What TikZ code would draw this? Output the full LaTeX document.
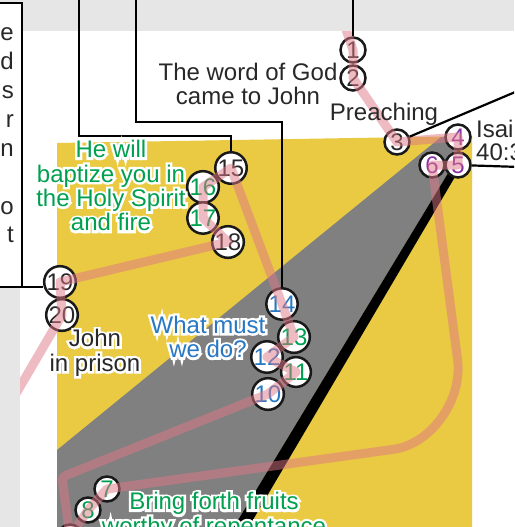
\documentclass[tikz,border=0pt]{standalone}
\usepackage{fontspec}
\setmainfont{Liberation Sans}
\newfontfamily\halofont[FakeBold=20]{Liberation Sans}
\usetikzlibrary{calc}
\definecolor{ybg}{RGB}{233,202,66}
\definecolor{gw}{RGB}{128,128,128}
\definecolor{bandc}{RGB}{230,230,230}
\definecolor{pathc}{RGB}{225,120,135}
\definecolor{tdark}{RGB}{40,40,40}
\definecolor{tgreen}{RGB}{0,160,80}
\definecolor{tblue}{RGB}{40,120,195}
\definecolor{tpurple}{RGB}{140,50,165}
\definecolor{circ}{RGB}{25,25,25}
\newcommand\halotxt[1]{\leavevmode\rlap{\halofont\color{white}#1}#1}
\tikzset{
  num/.style={circle, draw=circ, line width=2.5pt, fill=white, inner sep=0pt, minimum size=25pt, font=\fontsize{24}{24}\selectfont},
  conn/.style={draw=black, line width=2.2pt},
  lbl/.style={align=center, inner sep=0pt, font=\fontsize{24}{24.4}\selectfont},
  pathline/.style={draw=pathc, line width=9pt, opacity=0.5, line join=round},
  boxst/.style={draw=black, line width=2.5pt, fill=white},
}
\begin{document}
\begin{tikzpicture}[x=1pt,y=-1pt]
\useasboundingbox (0,0) rectangle (514,527);
\clip (0,0) rectangle (514,527);
\fill[white] (0,0) rectangle (514,527);
% backgrounds
\fill[ybg] (57,143) -- (472,136) -- (472,540) -- (57,540) -- cycle;
\fill[gw] (57,450) -- (441,137) -- (460,137) -- (453,165) -- (232,530) -- (57,530) -- cycle;
\fill[black] (453,165) -- (460,150) -- (462,165) -- (247,530) -- (232,530) -- cycle;
% circles
\node[num, text=tdark] (n1) at (353,50) {1};
\node[num, text=tdark] (n2) at (353,78) {2};
\node[num, text=tdark] (n3) at (397,142) {3};
\node[num, text=tpurple] (n4) at (458,137) {4};
\node[num, text=tpurple] (n5) at (458,165) {5};
\node[num, text=tpurple] (n6) at (432,165) {6};
\node[num, text=tgreen] (n7) at (107,489) {7};
\node[num, text=tgreen] (n8) at (88,510) {8};
\node[num, text=tgreen] (n9) at (70,537) {9};
\node[num, text=tblue] (n10) at (268,394) {10};
\node[num, text=tgreen] (n11) at (296,372) {11};
\node[num, text=tblue] (n12) at (267,357) {12};
\node[num, text=tgreen] (n13) at (294,337) {13};
\node[num, text=tblue] (n14) at (282,304) {14};
\node[num, text=tdark] (n15) at (231,168) {15};
\node[num, text=tgreen] (n16) at (203,187) {16};
\node[num, text=tgreen] (n17) at (203,218) {17};
\node[num, text=tdark] (n18) at (228,242) {18};
\node[num, text=tdark] (n19) at (60,282) {19};
\node[num, text=tdark] (n20) at (62,315) {20};
% translucent route
\coordinate (p0) at (336,0);
\coordinate (k1) at (468,439);
\coordinate (k2) at (62,477);
\coordinate (p21) at (0,421);
\draw[pathline] (p0) -- (n1.center) -- (n2.center) -- (n3.center) -- (n4.center) -- (n5.center) -- (n6.center)
  -- ($(k1)!80pt!(n6.center)$) .. controls ($(k1)!40pt!(n6.center)$) and ($(k1)!37pt!(n7.center)$) .. ($(k1)!75pt!(n7.center)$)
  -- (n7.center) -- (n8.center) -- (n9.center)
  -- ($(k2)!8pt!(n9.center)$) .. controls (k2) .. ($(k2)!8pt!(n10.center)$)
  -- (n10.center) -- (n11.center) -- (n12.center) -- (n13.center) -- (n14.center)
  -- (n15.center) -- (n16.center) -- (n17.center) -- (n18.center) -- (n19.center) -- (n20.center) -- (p21);
% bands
\fill[bandc] (0,0) rectangle (514,31);
\fill[bandc] (0,287) rectangle (20,527);
% left box
\coordinate (bxNW) at (-5,3);
\coordinate (bxSE) at (22,287);
\draw[boxst] (bxNW) rectangle (bxSE);
\node[anchor=north east, align=right, inner sep=0pt, font=\fontsize{24}{28.9}\selectfont, text=tdark] (boxtxt) at (14,27.5) {e\\d\\s\\r\\n\\\mbox{}\\o\\t};
% connectors
\coordinate (edgeTop) at (0,0);
\draw[conn] (n1.north) -- (n1.north |- edgeTop);
\coordinate (t14) at (136,0);
\coordinate (k14) at (282,122);
\draw[conn] (t14) |- (k14) -- (n14.north);
\coordinate (t15) at (79,0);
\coordinate (k15) at (231,136);
\draw[conn] (t15) |- (k15) -- (n15.north);
\coordinate (isaA) at (520,90);
\draw[conn] (n3) -- (isaA);
\coordinate (isaB) at (520,167);
\draw[conn] (n5) -- (isaB);
\draw[conn] (bxSE) -- (bxSE -| n19.west);
% labels
\node[lbl, text=tdark] (lWord) at (248,83.8) {The word of God\\came to John};
\node[lbl, text=tdark] (lPreach) at (384,113.8) {Preaching};
\node[lbl, text=tdark, anchor=north west, align=left, font=\fontsize{24}{23}\selectfont] (lIsa) at (476,119.8) {Isai\\40:3};
\node[lbl, text=tgreen] (lBapt) at (111,185.7) {\halotxt{He will}\\\halotxt{baptize you in}\\\halotxt{the Holy Spirit}\\\halotxt{and fire}};
\node[lbl, text=tblue] (lWhat) at (208,336.8) {\halotxt{What must}\\\halotxt{we do?}};
\node[lbl, text=tdark] (lJohn) at (95,352.8) {\halotxt{John}\\\halotxt{in prison}};
\node[lbl, text=tgreen] (lBring) at (214,515.8) {\halotxt{Bring forth fruits}\\\halotxt{worthy of repentance}};
\end{tikzpicture}
\end{document}
